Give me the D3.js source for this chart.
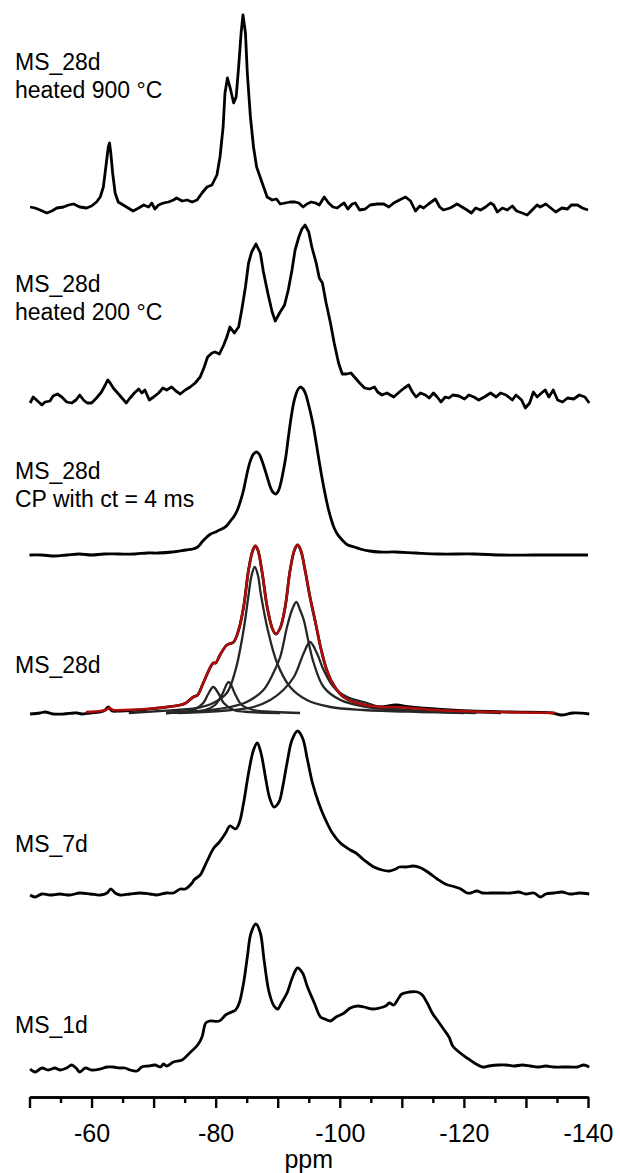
<!DOCTYPE html>
<html><head><meta charset="utf-8">
<script src="https://cdn.jsdelivr.net/npm/d3@7"></script>
<style>body{margin:0;background:#fff}</style>
</head><body>
<svg id="chart" width="620" height="1173"></svg>
<script>
// ---------- DATA (ppm, intensity a.u.) ----------
const labels = [
  ["MS_28d", "heated 900 \u00B0C"],
  ["MS_28d", "heated 200 \u00B0C"],
  ["MS_28d", "CP with ct = 4 ms"],
  ["MS_28d"],
  ["MS_7d"],
  ["MS_1d"]
];
const offsets = [890, 695, 542, 384, 202, 27];
const tickValues = [-50,-55,-60,-65,-70,-75,-80,-85,-90,-95,-100,-105,-110,-115,-120,-125,-130,-135,-140];
const tickLabels = ["-60","-80","-100","-120","-140"];

const s900 = [[-50.1,0],[-50.9,-1],[-51.7,-3],[-52.8,-6],[-53.6,-4],[-54.4,-1],[-55.5,0],[-56.3,2],[-57.1,3],[-58.1,0],[-59.2,-1],[-60.0,1],[-60.8,5],[-61.4,10],[-61.9,20],[-62.3,40],[-62.7,60],[-62.9,64],[-63.1,54],[-63.4,34],[-63.8,14],[-64.3,5],[-65.1,2],[-65.9,-1],[-66.7,-4],[-67.6,-1],[-68.4,2],[-69.2,0],[-69.7,4],[-70.2,-2],[-70.8,2],[-71.6,4],[-72.4,5],[-73.2,7],[-73.7,9],[-74.6,6],[-75.4,7],[-76.2,5],[-77.0,7],[-77.8,14],[-78.6,20],[-79.4,22],[-80.2,32],[-80.7,50],[-81.2,80],[-81.5,114],[-81.9,129],[-82.3,120],[-82.9,104],[-83.3,110],[-83.7,140],[-84.1,174],[-84.4,192],[-84.8,174],[-85.1,134],[-85.6,90],[-86.1,60],[-86.6,40],[-87.5,24],[-88.3,10],[-89.1,7],[-89.8,8],[-90.4,3],[-91.2,4],[-92.0,5],[-92.8,5],[-93.4,4],[-94.1,0],[-94.7,3],[-95.4,5],[-96.1,4],[-96.7,2],[-97.5,10],[-98.2,4],[-98.9,0],[-99.6,-1],[-100.2,2],[-100.7,4],[-101.3,-2],[-102.0,3],[-102.5,4],[-103.2,-3],[-104.1,-2],[-104.9,2],[-106.0,3],[-107.1,3],[-107.9,0],[-108.7,4],[-109.6,7],[-110.6,10],[-111.4,6],[-112.2,-4],[-112.9,1],[-113.5,-1],[-114.3,3],[-115.4,8],[-116.1,0],[-116.7,-3],[-117.8,-1],[-118.9,3],[-119.7,0],[-120.5,-3],[-121.2,-6],[-121.9,-1],[-122.7,-3],[-123.5,0],[-124.3,4],[-124.8,2],[-125.4,-5],[-126.2,-1],[-127.0,-3],[-127.8,1],[-128.5,-4],[-129.4,-6],[-130.2,-8],[-131.0,-3],[-131.8,2],[-132.3,0],[-133.2,3],[-134.0,-1],[-134.8,-5],[-135.8,-1],[-136.7,-2],[-137.3,2],[-138.3,2],[-139.1,-1],[-140.0,-3]];

const s200 = [[-50.1,-1],[-50.6,5],[-51.3,1],[-52.0,-3],[-52.5,0],[-53.3,1],[-53.8,6],[-54.5,8],[-55.2,5],[-56.0,0],[-56.8,-1],[-57.5,2],[-58.1,7],[-58.7,2],[-59.3,-1],[-60.0,-1],[-60.8,4],[-61.6,10],[-62.2,17],[-62.6,22],[-63.0,19],[-63.5,14],[-64.2,9],[-64.9,4],[-65.6,-1],[-66.2,4],[-66.9,9],[-67.6,13],[-68.1,9],[-68.6,12],[-69.3,2],[-70.0,5],[-70.8,9],[-71.5,14],[-72.1,12],[-72.9,15],[-73.6,11],[-74.3,8],[-75.1,12],[-75.9,15],[-76.7,19],[-77.5,25],[-78.1,34],[-78.7,45],[-79.4,49],[-79.9,50],[-80.6,48],[-81.3,57],[-81.8,65],[-82.3,75],[-83.0,69],[-83.7,75],[-84.2,92],[-84.8,115],[-85.3,139],[-85.8,150],[-86.5,158],[-87.2,149],[-87.7,130],[-88.4,109],[-89.1,90],[-89.6,81],[-90.3,89],[-91.1,97],[-91.7,112],[-92.3,132],[-92.8,152],[-93.4,165],[-93.9,173],[-94.4,177],[-95.0,170],[-95.5,155],[-96.2,139],[-96.7,124],[-97.2,119],[-97.8,99],[-98.5,79],[-99.1,59],[-99.8,39],[-100.4,28],[-101.1,28],[-101.8,29],[-102.5,24],[-103.2,19],[-104.0,14],[-104.8,13],[-105.6,15],[-106.1,10],[-106.8,7],[-107.6,9],[-108.7,5],[-109.6,10],[-110.4,14],[-111.1,17],[-111.7,10],[-112.3,5],[-113.0,9],[-113.8,7],[-114.4,4],[-115.1,9],[-115.7,5],[-116.3,0],[-117.0,5],[-117.6,4],[-118.2,7],[-119.2,6],[-120.1,3],[-120.8,7],[-121.6,5],[-122.4,2],[-123.3,5],[-124.3,9],[-125.2,5],[-125.9,9],[-126.8,7],[-127.8,2],[-128.4,7],[-129.3,2],[-129.9,-6],[-130.6,-1],[-131.2,10],[-131.8,5],[-132.5,9],[-133.1,12],[-133.7,5],[-134.4,12],[-135.1,2],[-135.9,0],[-136.7,4],[-137.7,3],[-138.6,7],[-139.5,5],[-140.2,-1]];

const sCP = [[-50.0,0],[-52,0],[-54,-1],[-56,0],[-58,1],[-60,0],[-62,1],[-64.4,1],[-67,1],[-69,2],[-70.7,2],[-73,3],[-75.2,5],[-76.3,6],[-77.1,8],[-77.8,13],[-78.4,17],[-79.2,21],[-80.0,23],[-80.6,25],[-81.3,27],[-81.9,30],[-82.5,35],[-83.0,39],[-83.5,45],[-84.0,54],[-84.5,65],[-84.9,77],[-85.3,88],[-85.7,96],[-86.1,101],[-86.6,103],[-87.0,101],[-87.3,97],[-87.8,88],[-88.3,78],[-88.8,68],[-89.2,63],[-89.7,61],[-90.1,64],[-90.5,72],[-90.9,84],[-91.3,98],[-91.7,117],[-92.1,135],[-92.5,150],[-92.9,160],[-93.3,166],[-93.7,168],[-94.1,166],[-94.5,161],[-94.9,152],[-95.3,142],[-95.8,127],[-96.2,112],[-96.7,93],[-97.2,75],[-97.7,59],[-98.2,45],[-98.7,34],[-99.1,27],[-99.6,21],[-100.1,17],[-100.7,13],[-101.3,10],[-102.3,8],[-103.3,6],[-104.8,4],[-106.4,3],[-109,3],[-112.2,2],[-116,1],[-121.7,1],[-126,0],[-131.3,0],[-136,0],[-140,0]];

const s28Exp = [[-50.1,-1],[-51.7,0],[-52.5,1],[-53.8,-1],[-55.5,-1],[-57.1,0],[-57.7,0],[-58.4,-1],[-59.8,0],[-61.4,1],[-62.2,3],[-62.7,6],[-63.3,2],[-64.6,2],[-67.8,3],[-70.7,5],[-74.3,8],[-75.2,10],[-76.4,16],[-77.1,18],[-78.0,30],[-79.6,50],[-80.0,50],[-80.7,58],[-81.8,68],[-82.9,71],[-83.7,83],[-84.5,106],[-85.3,143],[-86.0,163],[-86.4,167],[-86.8,163],[-87.5,140],[-88.3,106],[-89.1,85],[-89.7,79],[-90.4,85],[-91.2,106],[-92.0,143],[-92.7,163],[-93.2,168],[-93.7,163],[-94.4,143],[-95.2,116],[-96.1,90],[-96.9,66],[-97.9,43],[-99.0,28],[-100.6,16],[-102.8,10],[-106.5,6],[-109.0,8],[-111.4,6],[-115.4,4],[-121,2],[-127.5,1],[-134.3,0],[-135.7,-2],[-137.6,0],[-140.2,-1]];

const s28Fit = [[-59.1,1],[-61.5,2],[-62.3,3],[-62.9,5],[-63.5,3],[-65,3],[-70.7,5],[-74.3,8],[-75.2,10],[-76.4,16],[-77.1,18],[-78.0,30],[-79.6,50],[-80.0,50],[-80.7,58],[-81.8,68],[-82.9,71],[-83.7,83],[-84.5,106],[-85.3,143],[-86.0,163],[-86.4,167],[-86.8,163],[-87.5,140],[-88.3,106],[-89.1,85],[-89.7,79],[-90.4,85],[-91.2,106],[-92.0,143],[-92.7,163],[-93.2,168],[-93.7,163],[-94.4,143],[-95.2,116],[-96.1,90],[-96.9,66],[-97.9,43],[-99.0,28],[-100.6,16],[-102.8,10],[-106.5,6],[-109.0,6],[-115.4,3],[-125,1],[-134.8,0]];

const compA = [[-72,0],[-74.3,1],[-76.4,3],[-78.0,10],[-78.8,19],[-79.6,26],[-80.5,19],[-81.3,10],[-82.9,3],[-85.6,1],[-90.4,0]];
const compB = [[-72,0],[-75.9,1],[-78.3,3],[-79.9,8],[-81.0,18],[-82.1,31],[-83.2,18],[-84.2,8],[-86.1,3],[-89.6,1],[-93.6,0]];
const compC = [[-66,0],[-71.0,2],[-77.0,5],[-79.6,10],[-81.8,20],[-83.2,43],[-84.5,83],[-85.3,118],[-85.8,138],[-86.3,146],[-86.8,138],[-87.3,118],[-88.4,83],[-89.9,50],[-92.0,26],[-94.7,13],[-98.5,6],[-103.8,3],[-113,1],[-120,0]];
const compD = [[-72,0],[-77.5,2],[-82.3,6],[-85.0,11],[-87.7,23],[-89.3,40],[-90.4,56],[-91.5,86],[-92.3,103],[-93.0,111],[-93.6,103],[-94.2,93],[-95.0,70],[-95.8,50],[-97.4,26],[-100.1,13],[-104.4,6],[-113,2],[-122,0]];
const compE = [[-74,0],[-80.7,2],[-86.1,6],[-88.8,13],[-90.9,23],[-92.6,36],[-94.2,60],[-95.2,71],[-96.3,60],[-97.4,43],[-99.0,26],[-101.2,16],[-104.4,10],[-106.5,6],[-113,2],[-119.4,1],[-126,0]];

const s7d = [[-50.1,0],[-50.9,-2],[-52.0,1],[-53.3,0],[-54.9,1],[-56.5,0],[-58.1,2],[-59.8,1],[-61.4,0],[-62.5,2],[-63.1,6],[-63.8,2],[-64.6,0],[-66.2,1],[-67.8,2],[-69.4,1],[-70.5,0],[-72.1,2],[-73.2,2],[-74.3,6],[-75.1,6],[-76.2,12],[-76.5,15],[-77.5,20],[-77.8,23],[-78.7,35],[-79.7,47],[-80.6,53],[-81.6,62],[-82.3,69],[-83.2,66],[-83.8,72],[-84.5,92],[-85.3,122],[-86.1,145],[-86.7,152],[-87.3,142],[-88.1,115],[-88.7,97],[-89.4,88],[-90.2,93],[-90.8,108],[-91.5,132],[-92.3,155],[-93.2,164],[-94.0,157],[-94.8,135],[-95.6,112],[-96.6,92],[-97.5,78],[-98.8,62],[-100.1,52],[-101.7,45],[-102.6,42],[-103.9,35],[-105.5,28],[-106.8,25],[-108.0,24],[-109.0,26],[-109.6,28],[-110.6,28],[-111.9,29],[-113.1,27],[-114.4,22],[-115.7,16],[-117.0,11],[-118.6,8],[-119.5,6],[-120.5,2],[-121.1,2],[-122.1,4],[-123.0,2],[-124.3,2],[-125.6,2],[-126.5,2],[-127.5,2],[-128.8,3],[-130.0,1],[-131.3,2],[-132.3,-2],[-133.2,1],[-134.5,2],[-135.8,3],[-137.1,1],[-138.6,2],[-140.2,1]];

const s1d = [[-50.1,1],[-50.9,-2],[-52.0,2],[-53.0,0],[-54.1,2],[-54.9,0],[-56.0,2],[-56.8,5],[-57.5,2],[-58.1,-2],[-59.0,2],[-60.0,0],[-61.4,1],[-62.5,3],[-63.5,3],[-64.6,2],[-65.4,2],[-66.2,0],[-67.3,-1],[-68.1,3],[-69.2,4],[-70.2,5],[-71.1,3],[-71.6,6],[-72.1,4],[-73.2,8],[-74.6,10],[-75.8,17],[-77.1,25],[-77.8,33],[-78.4,47],[-79.0,49],[-80.6,49],[-81.6,55],[-82.2,57],[-83.2,60],[-83.8,67],[-84.5,87],[-85.1,113],[-85.7,137],[-86.5,146],[-87.2,137],[-87.8,110],[-88.6,78],[-89.4,64],[-90.0,61],[-90.6,67],[-91.5,77],[-92.4,93],[-93.2,102],[-94.0,97],[-94.8,83],[-95.9,67],[-96.9,53],[-97.6,51],[-98.5,49],[-99.4,53],[-100.7,57],[-101.7,62],[-102.9,64],[-103.9,63],[-105.2,61],[-106.4,62],[-107.4,64],[-108.0,67],[-108.7,65],[-109.3,70],[-110.0,76],[-111.2,78],[-112.5,78],[-113.3,75],[-114.1,67],[-114.9,57],[-115.7,50],[-116.6,42],[-117.6,33],[-118.2,24],[-119.2,18],[-120.5,12],[-121.7,7],[-123.0,3],[-124.0,4],[-125.6,5],[-126.8,5],[-128.1,4],[-129.4,5],[-130.7,4],[-131.9,3],[-133.2,4],[-134.5,3],[-135.8,3],[-137.1,3],[-138.3,3],[-139.3,5],[-140.2,3]];

// ---------- LAYOUT ----------
const W = 620, H = 1173, axisY = 1097;
const svg = d3.select("#chart");
const font = "'Liberation Sans', Arial, Helvetica, sans-serif";
const x = d3.scaleLinear().domain([-50, -140]).range([29.5, 588]);
const y = d3.scaleLinear().domain([0, 1097]).range([axisY, 0]);

const lineFor = (offset, curve) => d3.line()
  .x(d => x(d[0]))
  .y(d => y(offset + d[1]))
  .curve(curve);

const smooth = d3.curveCatmullRom.alpha(0.5);
const spectra = [
  {data: s900, curve: d3.curveLinear},
  {data: s200, curve: d3.curveLinear},
  {data: sCP, curve: smooth},
  {data: s28Exp, curve: smooth},
  {data: s7d, curve: smooth},
  {data: s1d, curve: smooth}
];

const gSpec = svg.append("g");
spectra.forEach((s, i) => {
  gSpec.append("path")
    .attr("d", lineFor(offsets[i], s.curve)(s.data))
    .attr("fill", "none").attr("stroke", "#000")
    .attr("stroke-width", 2.8).attr("stroke-linejoin", "round");
});

// fit components and sum
[compA, compB, compC, compD, compE].forEach(c => {
  gSpec.append("path")
    .attr("d", lineFor(offsets[3], smooth)(c))
    .attr("fill", "none").attr("stroke", "#262626")
    .attr("stroke-width", 2.3).attr("stroke-linejoin", "round");
});
gSpec.append("path")
  .attr("d", lineFor(offsets[3], smooth)(s28Fit))
  .attr("fill", "none").attr("stroke", "#b00c0c")
  .attr("stroke-width", 2.5).attr("stroke-linejoin", "round");

// labels
const labelBase = [70, 292, 479, 673, 852, 1033];
labels.forEach((lines, i) => {
  lines.forEach((t, j) => {
    svg.append("text")
      .attr("x", 15).attr("y", labelBase[i] + j * 28)
      .attr("font-family", font).attr("font-size", 23)
      .attr("fill", "#000").text(t);
  });
});

// axis
const major = tickValues.filter(v => v % 10 === 0);
const minor = tickValues.filter(v => v % 10 !== 0);
const gMinor = svg.append("g").attr("transform", `translate(0,${axisY})`)
  .call(d3.axisBottom(x).tickValues(minor).tickSize(6).tickSizeOuter(0).tickFormat(""));
const gMajor = svg.append("g").attr("transform", `translate(0,${axisY})`)
  .call(d3.axisBottom(x).tickValues(major).tickSize(11).tickSizeOuter(0)
    .tickFormat(d => tickLabels.includes(String(d)) ? String(d) : ""));
[gMinor, gMajor].forEach(g => {
  g.select(".domain").attr("stroke", "#000").attr("stroke-width", 2.6);
  g.selectAll(".tick line").attr("stroke", "#000").attr("stroke-width", 2.4);
});
gMajor.selectAll(".tick text")
  .attr("font-family", font).attr("font-size", 25).attr("fill", "#000")
  .attr("y", 45).attr("dy", 0);

svg.append("text")
  .attr("x", (x(-50) + x(-140)) / 2).attr("y", 1168)
  .attr("text-anchor", "middle")
  .attr("font-family", font).attr("font-size", 25).attr("fill", "#000")
  .text("ppm");
</script>
</body></html>
